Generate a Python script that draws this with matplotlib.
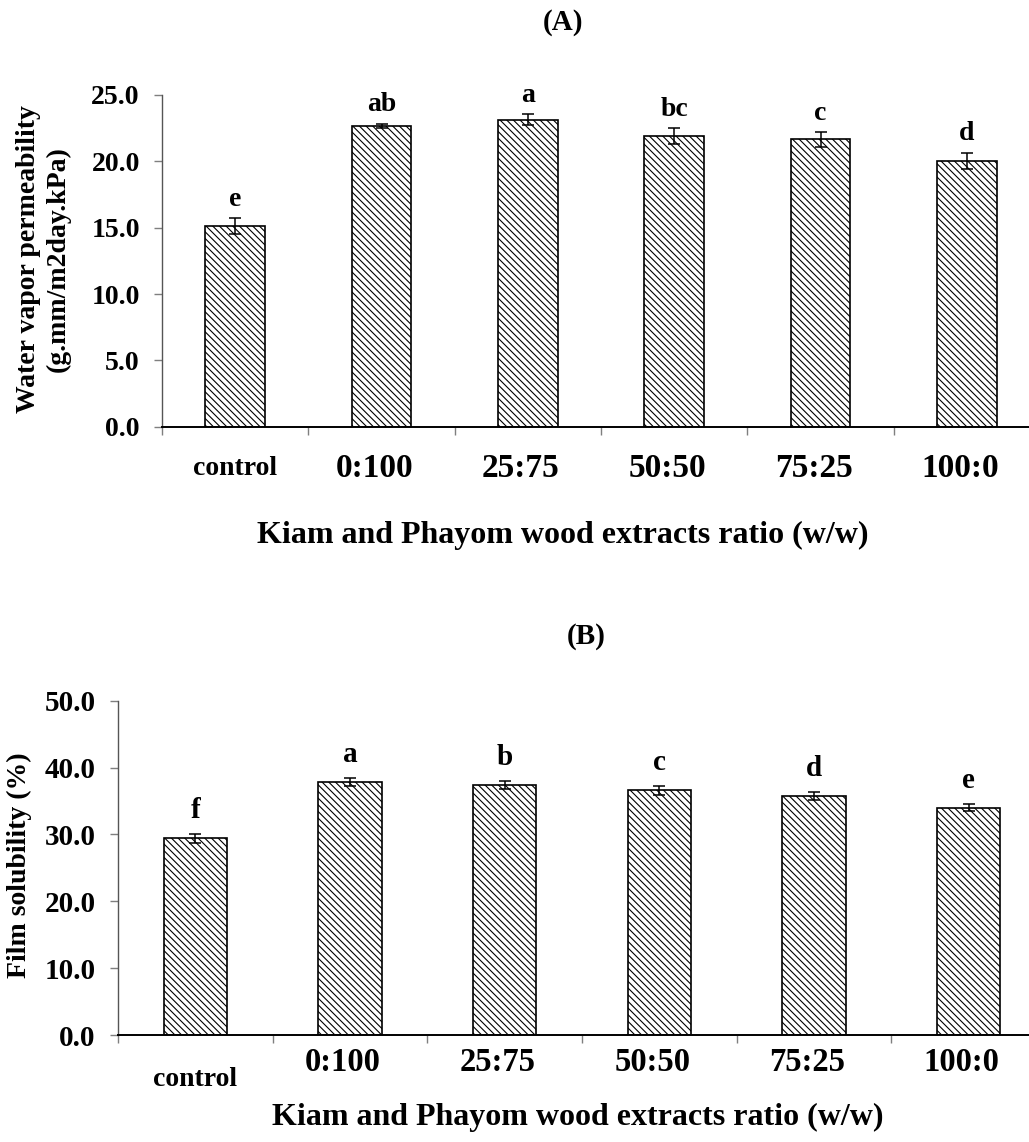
import matplotlib
matplotlib.use("Agg")
import matplotlib.pyplot as plt
import numpy as np

plt.rcParams['font.family'] = ['Liberation Serif', 'DejaVu Serif']
plt.rcParams['font.weight'] = 'bold'
plt.rcParams['hatch.linewidth'] = 0.8

ratios = ['control', '0:100', '25:75', '50:50', '75:25', '100:0']

# (A) water vapor permeability
wvp = [15.1, 22.7, 23.15, 21.9, 21.65, 20.05]
wvp_err = [0.6, 0.15, 0.4, 0.6, 0.55, 0.6]
wvp_letters = ['e', 'ab', 'a', 'bc', 'c', 'd']

# (B) film solubility
sol = [29.4, 37.9, 37.4, 36.6, 35.8, 34.0]
sol_err = [0.7, 0.6, 0.55, 0.7, 0.6, 0.5]
sol_letters = ['f', 'a', 'b', 'c', 'd', 'e']

W, H = 1029, 1142
fig = plt.figure(figsize=(W / 100, H / 100), dpi=100)


def panel(rect, values, errs, letters, ymax, ystep, tick_fs, letter_fs,
          letter_off, lab_fs, ctrl_fs, lab_off, ctrl_off):
    ax = fig.add_axes(rect)
    x = np.arange(len(values))
    ax.bar(x, values, width=0.41, color='white', edgecolor='black',
           linewidth=1.2, hatch='\\\\\\\\\\', zorder=2)
    ax.errorbar(x, values, yerr=errs, fmt='none', ecolor='black',
                elinewidth=1.1, capsize=4.5, capthick=1.1, zorder=3)
    for xi, v, e, s in zip(x, values, errs, letters):
        ax.annotate(s, (xi, v + e), xytext=(0, letter_off),
                    textcoords='offset points', ha='center', va='baseline',
                    fontsize=letter_fs, fontweight='bold')
    ax.set_xlim(-0.5, len(values) - 0.5)
    ax.set_ylim(0, ymax)
    ticks = np.arange(0, ymax + 0.01, ystep)
    ax.set_yticks(ticks)
    ax.set_yticklabels([f'{t:.1f}' for t in ticks],
                       fontsize=tick_fs, fontweight='bold')
    ax.set_xticks(np.arange(-0.5, len(values)))
    ax.set_xticklabels([])
    ax.tick_params(axis='both', direction='out', length=6, width=1,
                   color='#7f7f7f', pad=10)
    for side in ('top', 'right'):
        ax.spines[side].set_visible(False)
    ax.spines['left'].set_color('#555555')
    ax.spines['left'].set_linewidth(1.0)
    ax.spines['bottom'].set_color('black')
    ax.spines['bottom'].set_linewidth(1.4)
    # category names under the axis
    for xi, name in zip(x, ratios):
        is_ctrl = name == 'control'
        ax.annotate(name, (xi, 0), xycoords=('data', 'axes fraction'),
                    xytext=(0 if is_ctrl else -5,
                            -(ctrl_off if is_ctrl else lab_off)),
                    textcoords='offset points', ha='center', va='center',
                    fontsize=ctrl_fs if is_ctrl else lab_fs,
                    fontweight='bold', annotation_clip=False)
    return ax


# axes boxes in pixels: left, right, top, bottom
def box(l, r, t, b):
    return [l / W, 1 - b / H, (r - l) / W, (b - t) / H]


axA = panel(box(162, 1040, 95, 426.7), wvp, wvp_err, wvp_letters, 25, 5,
            20, 20, 9, 24, 20, 30, 30)
axB = panel(box(118, 1046, 700.7, 1035), sol, sol_err, sol_letters, 50, 10,
            21, 21, 11.5, 23.5, 20, 20, 32)

xlabel = 'Kiam and Phayom wood extracts ratio (w/w)'
fig.text(563 / W, 1 - 22 / H, '(A)', ha='center', va='center', fontsize=21, fontweight='bold')
fig.text(563 / W, 1 - 535 / H, xlabel, ha='center', va='center', fontsize=23, fontweight='bold')
fig.text(43.5 / W, 1 - 259 / H, 'Water vapor permeability\n(g.mm/m2day.kPa)',
         ha='center', va='center', rotation=90, fontsize=20, fontweight='bold',
         multialignment='center', linespacing=1.25)

fig.text(586 / W, 1 - 636 / H, '(B)', ha='center', va='center', fontsize=21, fontweight='bold')
fig.text(578 / W, 1 - 1117 / H, xlabel, ha='center', va='center', fontsize=23, fontweight='bold')
fig.text(19.5 / W, 1 - 865 / H, 'Film solubility (%)', ha='center', va='center',
         rotation=90, fontsize=20, fontweight='bold')

fig.savefig('out.png', dpi=100)
